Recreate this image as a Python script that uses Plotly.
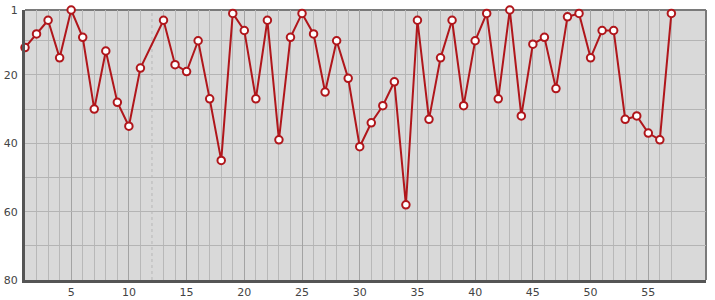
import plotly.graph_objects as go

x_vals = [1, 2, 3, 4, 5, 6, 7, 8, 9, 10, 11, 13, 14, 15, 16, 17, 18, 19, 20,
          21, 22, 23, 24, 25, 26, 27, 28, 29, 30, 31, 32, 33, 34, 35, 36, 37,
          38, 39, 40, 41, 42, 43, 44, 45, 46, 47, 48, 49, 50, 51, 52, 53, 54,
          55, 56, 57]
ranks = [12, 8, 4, 15, 1, 9, 30, 13, 28, 35, 18, 4, 17, 19, 10, 27, 45, 2, 7,
         27, 4, 39, 9, 2, 8, 25, 10, 21, 41, 34, 29, 22, 58, 4, 33, 15,
         4, 29, 10, 2, 27, 1, 32, 11, 9, 24, 3, 2, 15, 7, 7, 33, 32,
         37, 39, 2]
missing_x = [12]
x_ticks = [5, 10, 15, 20, 25, 30, 35, 40, 45, 50, 55]
y_ticks = [1, 20, 40, 60, 80]
y_minor = [10, 30, 50, 70]

minor_x = [v for v in x_vals if v not in x_ticks]

fig = go.Figure()
fig.add_trace(go.Scatter(
    x=x_vals, y=ranks, mode="lines+markers",
    line=dict(color="#b0161b", width=2),
    marker=dict(size=7.5, color="white", line=dict(color="#b0161b", width=2)),
    cliponaxis=False, hoverinfo="x+y",
))

for mx in missing_x:
    fig.add_shape(type="line", x0=mx, x1=mx, y0=0, y1=1, xref="x", yref="paper",
                  line=dict(color="#b8b8b8", width=1, dash="3px,3px"), layer="below")

# top and right border
fig.add_shape(type="line", x0=0, x1=1, y0=1, y1=1, xref="paper", yref="paper",
              line=dict(color="#7a7a7a", width=2), layer="below")
fig.add_shape(type="line", x0=1, x1=1, y0=0, y1=1, xref="paper", yref="paper",
              line=dict(color="#7a7a7a", width=2), layer="below")

fig.update_layout(
    width=715, height=300,
    margin=dict(l=25, r=9, t=10, b=20),
    paper_bgcolor="white", plot_bgcolor="#d9d9d9",
    showlegend=False,
    font=dict(family="DejaVu Sans", size=11, color="#444444"),
    xaxis=dict(
        range=[1, 60], tickmode="array", tickvals=x_ticks,
        showgrid=True, gridcolor="#a3a3a3", gridwidth=1,
        minor=dict(tickmode="array", tickvals=minor_x, showgrid=True,
                   gridcolor="#b8b8b8", gridwidth=1, ticks=""),
        showline=True, linecolor="#555555", linewidth=3,
        ticks="", zeroline=False, ticklabelstandoff=0, automargin=False,
    ),
    yaxis=dict(
        range=[80, 1], tickmode="array", tickvals=y_ticks,
        showgrid=True, gridcolor="#b4b4b4", gridwidth=1,
        minor=dict(tickmode="array", tickvals=y_minor, showgrid=True,
                   gridcolor="#b4b4b4", gridwidth=1, ticks=""),
        showline=True, linecolor="#555555", linewidth=3,
        ticks="", zeroline=False, ticklabelstandoff=2, automargin=False,
    ),
)

fig.write_html("out.html")
